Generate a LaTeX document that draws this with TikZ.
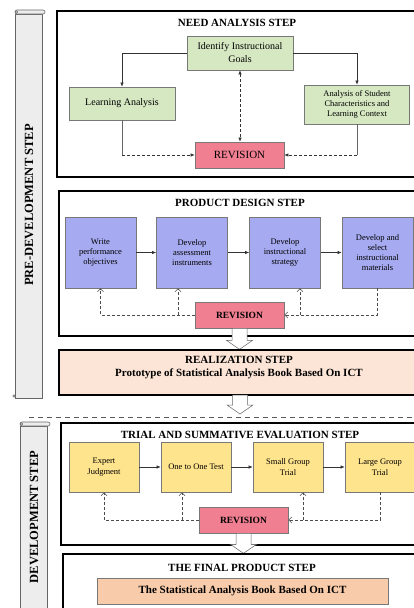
\documentclass[tikz,border=0pt]{standalone}
\usepackage{fontspec}
\setmainfont{Liberation Serif}
\usetikzlibrary{arrows.meta}
\usetikzlibrary{positioning}
\usetikzlibrary{calc}

\definecolor{needgreen}{RGB}{214,232,194}
\definecolor{designblue}{RGB}{166,170,240}
\definecolor{trialyellow}{RGB}{255,228,142}
\definecolor{revpink}{RGB}{240,128,145}
\definecolor{realpeach}{RGB}{252,229,215}
\definecolor{finalorange}{RGB}{248,203,170}
\definecolor{boxgray}{RGB}{120,120,120}

\begin{document}
\begin{tikzpicture}[x=1pt,y=-1pt]
  \tikzset{
    pics/bigarrow/.style args={#1}{code={
      \draw[line width=0.5pt,draw=black!60,fill=white] (-7.5,0) -- (7.5,0) -- (7.5,#1-9) -- (13,#1-9) -- (0,#1) -- (-13,#1-9) -- (-7.5,#1-9) -- cycle ;
      },
    },
    pics/scroll/.style args={#1}{code={
      \draw[line width=0.6pt,draw=black!60,fill=black!7] (0,4) rectangle (27,#1) ;
      \draw[line width=0.6pt,draw=black!60,fill=black!7,rounded corners=2pt] (0,0) rectangle (30,4) ;
      \draw[line width=0.5pt,draw=black!60,fill=black!7] (1.5,2) circle (1.2) ;
      \draw[line width=0.5pt,draw=black!60,fill=black!7] (-1,#1-2) circle (1.2) ;
      },
    },
    frame/.style={draw=black,line width=1.1pt},
    title/.style={font=\bfseries\fontsize{11}{13}\selectfont,inner sep=0pt},
    side/.style={font=\bfseries\fontsize{12.5}{14}\selectfont,rotate=90,inner sep=0pt},
    greenbox/.style={draw=boxgray,fill=needgreen,line width=0.7pt,align=center,inner sep=1pt},
    bluebox/.style={draw=boxgray,fill=designblue,line width=0.7pt,align=center,inner sep=1pt,
      minimum width=71pt,minimum height=71pt,font=\fontsize{8.5}{10}\selectfont},
    yellowbox/.style={draw=boxgray,fill=trialyellow,line width=0.7pt,align=center,inner sep=1pt,
      minimum width=70pt,minimum height=50pt,font=\fontsize{8.5}{10.5}\selectfont},
    revbox/.style={draw=boxgray,fill=revpink,line width=0.7pt,minimum width=89pt,minimum height=26pt,
      font=\bfseries\fontsize{9.5}{11}\selectfont},
    solidarr/.style={-{Latex[length=4pt,width=3.5pt]},line width=0.6pt,black!80},
    dasharr/.style={-{Latex[length=4pt,width=3.5pt]},line width=0.6pt,black!80,dash pattern=on 3pt off 2pt},
    backarr/.style={-{Straight Barb[length=3pt,width=6pt]},line width=0.6pt,black!70,dash pattern=on 3pt off 2pt},
  }
  \useasboundingbox (0,0) rectangle (414,608);
  \clip (0,0) rectangle (414,608);

  %SIDE BANNERS
  \pic at (15,10) {scroll={388}};
  \pic at (20,422) {scroll={200}};
  \node[side] (pre) at (29,205) {PRE-DEVELOPMENT STEP};
  \node[side] (dev) at (34,517) {DEVELOPMENT STEP};

  %NEED ANALYSIS
  \draw[frame] (57,11) rectangle (430,177);
  \node[title] (t1) at (237,23) {NEED ANALYSIS STEP};
  \node[greenbox,minimum width=106pt,minimum height=34pt,font=\fontsize{10}{13}\selectfont] (goal) at (240,53) {Identify Instructional\\Goals};
  \node[greenbox,minimum width=106pt,minimum height=33pt,font=\fontsize{10}{12}\selectfont] (learn) at (122,103.5) {Learning Analysis};
  \node[greenbox,minimum width=105pt,minimum height=39pt,font=\fontsize{8.5}{10}\selectfont] (stud) at (357,104.5) {Analysis of Student\\Characteristics and\\Learning Context};
  \node[revbox,font=\fontsize{11}{13}\selectfont] (rev1) at (239.5,155) {REVISION};
  \draw[solidarr] (goal.west) -| (learn.north);
  \draw[solidarr] (goal.east) -| (stud.north);
  \draw[dasharr,{Latex[length=4pt,width=3.5pt]}-{Latex[length=4pt,width=3.5pt]}] (goal.south) -- (goal.south |- rev1.north);
  \draw[line width=0.6pt,black!60] (learn.south) -- (learn.south |- rev1.west) coordinate (c1);
  \draw[dasharr] (c1) -- (rev1.west);
  \draw[line width=0.6pt,black!60] (stud.south) -- (stud.south |- rev1.east) coordinate (c2);
  \draw[dasharr] (c2) -- (rev1.east);

  %PRODUCT DESIGN
  \draw[frame] (59,191) rectangle (430,336);
  \node[title] (t2) at (240,203) {PRODUCT DESIGN STEP};
  \node[bluebox] (p1) at (100.5,252.5) {Write\\performance\\objectives};
  \node[bluebox] (p2) at (192,252.5) {Develop\\assessment\\instruments};
  \node[bluebox] (p3) at (285,252.5) {Develop\\instructional\\strategy};
  \node[bluebox] (p4) at (377.5,252.5) {Develop and\\select\\instructional\\materials};
  \node[revbox] (rev2) at (239.5,315) {REVISION};
  \foreach \a/\b in {p1/p2,p2/p3,p3/p4} {
    \draw[solidarr] (\a) -- (\b) ;
  }
  \draw[backarr] (rev2.west) -| (p1.south);
  \draw[backarr] ([xshift=-14]p2.south |- rev2.west) -- ([xshift=-14]p2.south);
  \draw[backarr] (p4.south) |- (rev2.east);
  \draw[backarr] ([xshift=15]p3.south |- rev2.east) -- ([xshift=15]p3.south);
  \pic at (rev2.south) {bigarrow={21}};

  %REALIZATION
  \draw[frame,fill=realpeach] (59,350) rectangle (430,395);
  \node[title,align=center,font=\bfseries\fontsize{11}{13}\selectfont] (real) at (239,367.5) {REALIZATION STEP\\Prototype of Statistical Analysis Book Based On ICT};
  \pic at (240,395) {bigarrow={19}};
  \draw[line width=1pt,black!65,dash pattern=on 5pt off 4pt] (29,417) -- (414,417);

  %TRIAL AND SUMMATIVE EVALUATION
  \draw[frame] (61,423) rectangle (430,545);
  \node[title] (t3) at (240,435) {TRIAL AND SUMMATIVE EVALUATION STEP};
  \node[yellowbox] (y1) at (104,467) {Expert\\Judgment};
  \node[yellowbox] (y2) at (196,467) {One to One Test};
  \node[yellowbox] (y3) at (288,467) {Small Group\\Trial};
  \node[yellowbox] (y4) at (380,467) {Large Group\\Trial};
  \node[revbox] (rev3) at (243.5,520) {REVISION};
  \foreach \a/\b in {y1/y2,y2/y3,y3/y4} {
    \draw[solidarr] (\a) -- (\b) ;
  }
  \draw[backarr] (rev3.west) -| (y1.south);
  \draw[backarr] ([xshift=-14]y2.south |- rev3.west) -- ([xshift=-14]y2.south);
  \draw[backarr] (y4.south) |- (rev3.east);
  \draw[backarr] ([xshift=15]y3.south |- rev3.east) -- ([xshift=15]y3.south);
  \pic at (rev3.south) {bigarrow={20}};

  %FINAL PRODUCT
  \draw[frame] (63,554) rectangle (430,640);
  \node[title] (t4) at (242,568) {THE FINAL PRODUCT STEP};
  \node[draw=boxgray,fill=finalorange,line width=0.7pt,minimum width=291pt,minimum height=26pt,
    font=\bfseries\fontsize{11}{13}\selectfont] (book) at (242.5,591) {The Statistical Analysis Book Based On ICT};
\end{tikzpicture}
\end{document}
